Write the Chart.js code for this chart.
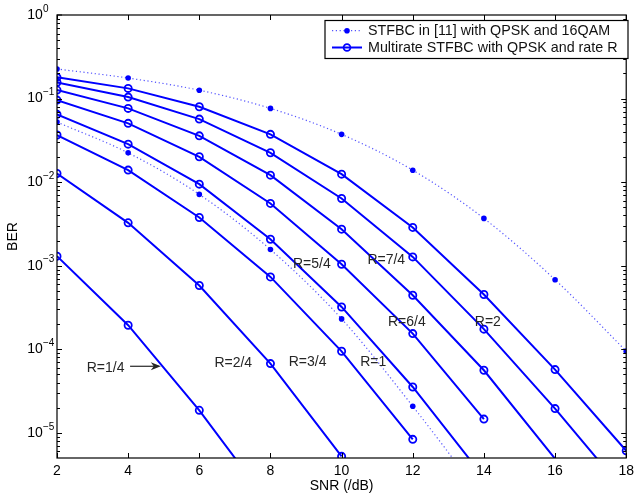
<!DOCTYPE html>
<html lang="en">
<head>
  <meta charset="UTF-8" />
  <title>BER vs SNR - Multirate STFBC</title>
  <script src="https://cdn.jsdelivr.net/npm/chart.js"></script>
  <style>
    html, body {
      margin: 0;
      padding: 0;
      background: #fff;
    }
    #wrap {
      width: 639px;
      height: 495px;
    }
  </style>
</head>
<body>
  <div id="wrap"><canvas id="berChart" width="639" height="495"></canvas></div>

  <script>
    const snr = [2, 4, 6, 8, 10, 12, 14, 16, 18];
    const xTicks = [2, 4, 6, 8, 10, 12, 14, 16, 18];
    const yDecades = [0, -1, -2, -3, -4, -5];
    const yMin = 5e-6;
    const yMax = 1;

    // STFBC in [11] (dotted, filled dots)
    const ref16qam = [0.226, 0.176, 0.126, 0.0763, 0.0373, 0.0139, 0.00368, 6.8e-4, 9.5e-5];
    const refQpsk = [0.0523, 0.0224, 0.00713, 0.00156, 2.31e-4, 2.08e-5, 1.6e-6];

    // Multirate STFBC, rate R (solid, circles)
    const rate8of4 = [0.1795, 0.1324, 0.0798, 0.0373, 0.01247, 0.00287, 4.52e-4, 5.71e-5, 6.1e-6];
    const rate7of4 = [0.1563, 0.1042, 0.0568, 0.02244, 0.00638, 0.001274, 1.74e-4, 1.95e-5, 1.88e-6];
    const rate6of4 = [0.1264, 0.0763, 0.0358, 0.01213, 0.002736, 4.43e-4, 5.61e-5, 4.9e-6];
    const rate5of4 = [0.0959, 0.0505, 0.0201, 0.00556, 0.001042, 1.54e-4, 1.46e-5];
    const rate4of4 = [0.0647, 0.0285, 0.00946, 0.002076, 3.21e-4, 3.54e-5, 2.93e-6];
    const rate3of4 = [0.0366, 0.01393, 0.003777, 7.34e-4, 9.46e-5, 8.36e-6];
    const rate2of4 = [0.0127, 0.00326, 5.79e-4, 6.74e-5, 5.23e-6];
    const rate1of4 = [0.0013, 1.94e-4, 1.86e-5, 1.35e-6];

    const rateSeries = [rate8of4, rate7of4, rate6of4, rate5of4, rate4of4, rate3of4, rate2of4, rate1of4];

    // curve labels, placed in data coordinates (left edge, vertical middle)
    const rateLabels = ['R=2', 'R=7/4', 'R=6/4', 'R=5/4', 'R=1', 'R=3/4', 'R=2/4', 'R=1/4'];
    const labelX = [13.744, 10.725, 11.302, 8.634, 10.521, 8.514, 6.424, 2.836];
    const labelY = [2.12e-4, 1.16e-3, 2.09e-4, 1.03e-3, 7.05e-5, 7.05e-5, 6.74e-5, 5.97e-5];
    const arrowFrom = [4.054, 6.26e-5];
    const arrowTo = [4.918, 6.26e-5];

    const legendText = ['STFBC in [11] with QPSK and 16QAM', 'Multirate STFBC with QPSK and rate R'];

    const FONT = '"Liberation Sans", Arial, sans-serif';
    const BLUE = '#0000ff';

    const toPoints = vals => vals.map((v, i) => ({x: snr[i], y: v}));

    const dottedStyle = {
      borderColor: 'rgba(40,40,255,0.8)',
      borderWidth: 1.2,
      borderDash: [1.2, 2.6],
      cubicInterpolationMode: 'monotone',
      pointStyle: 'circle',
      pointRadius: c => (c.raw && c.raw.y < yMin ? 0 : 2.8),
      pointBackgroundColor: BLUE,
      pointBorderColor: BLUE,
      pointBorderWidth: 0,
      fill: false
    };

    const solidStyle = {
      borderColor: BLUE,
      borderWidth: 2,
      tension: 0,
      pointStyle: 'circle',
      pointRadius: c => (c.raw && c.raw.y < yMin ? 0 : 3.6),
      pointBackgroundColor: 'rgba(0,0,0,0)',
      pointBorderColor: BLUE,
      pointBorderWidth: 1.8,
      fill: false
    };

    const datasets = [
      Object.assign({label: legendText[0], data: toPoints(ref16qam)}, dottedStyle),
      Object.assign({label: legendText[0] + ' (QPSK)', data: toPoints(refQpsk)}, dottedStyle)
    ];
    rateSeries.forEach((vals, i) => {
      datasets.push(Object.assign({label: rateLabels[i], data: toPoints(vals)}, solidStyle));
    });

    // frame, inward ticks, y labels with exponents, curve labels and legend box
    const decorations = {
      id: 'decorations',
      afterDraw(chart) {
        const {ctx, chartArea: a, scales: {x, y}} = chart;
        ctx.save();
        ctx.strokeStyle = '#000';
        ctx.lineWidth = 1.2;
        ctx.strokeRect(a.left, a.top, a.right - a.left, a.bottom - a.top);

        ctx.lineWidth = 1;
        ctx.beginPath();
        xTicks.forEach(v => {
          const px = Math.round(x.getPixelForValue(v)) + 0.5;
          ctx.moveTo(px, a.bottom); ctx.lineTo(px, a.bottom - 5);
          ctx.moveTo(px, a.top); ctx.lineTo(px, a.top + 5);
        });
        yDecades.forEach(d => {
          for (let m = 1; m <= 9; m++) {
            const v = m * Math.pow(10, d - 1);
            if (v < yMin || v > yMax) continue;
            const py = Math.round(y.getPixelForValue(v)) + 0.5;
            const len = m === 1 ? 5 : 3;
            ctx.moveTo(a.left, py); ctx.lineTo(a.left + len, py);
            ctx.moveTo(a.right, py); ctx.lineTo(a.right - len, py);
          }
        });
        ctx.moveTo(a.left, y.getPixelForValue(1)); ctx.lineTo(a.left + 5, y.getPixelForValue(1));
        ctx.stroke();

        // y tick labels: 10^d
        ctx.fillStyle = '#000';
        yDecades.forEach(d => {
          const py = y.getPixelForValue(Math.pow(10, d));
          ctx.font = '14px ' + FONT;
          ctx.textAlign = 'right';
          ctx.textBaseline = 'middle';
          ctx.fillText('10', 42.7, py);
          ctx.font = '10px ' + FONT;
          ctx.textAlign = 'left';
          ctx.fillText(d === 0 ? '0' : '\u2212' + (-d), 43, py - 6);
        });

        // curve labels
        ctx.fillStyle = '#262626';
        ctx.font = '14px ' + FONT;
        ctx.textAlign = 'left';
        ctx.textBaseline = 'middle';
        rateLabels.forEach((t, i) => {
          ctx.fillText(t, x.getPixelForValue(labelX[i]), y.getPixelForValue(labelY[i]));
        });

        // arrow for R=1/4
        const ax0 = x.getPixelForValue(arrowFrom[0]), ay0 = y.getPixelForValue(arrowFrom[1]);
        const ax1 = x.getPixelForValue(arrowTo[0]), ay1 = y.getPixelForValue(arrowTo[1]);
        ctx.strokeStyle = '#262626';
        ctx.lineWidth = 1.2;
        ctx.beginPath();
        ctx.moveTo(ax0, ay0); ctx.lineTo(ax1 - 2, ay1);
        ctx.stroke();
        ctx.beginPath();
        ctx.moveTo(ax1, ay1);
        ctx.lineTo(ax1 - 10, ay1 - 4);
        ctx.lineTo(ax1 - 7, ay1);
        ctx.lineTo(ax1 - 10, ay1 + 4);
        ctx.closePath();
        ctx.fillStyle = '#262626';
        ctx.fill();

        // legend box
        const lx = 325, ly = 20.5, lw = 303, lh = 38;
        ctx.fillStyle = '#fff';
        ctx.fillRect(lx, ly, lw, lh);
        ctx.strokeStyle = '#000';
        ctx.lineWidth = 1.2;
        ctx.strokeRect(lx, ly, lw, lh);
        const rows = [30.7, 47.5];
        const samples = [datasets[0], datasets[2]];
        samples.forEach((ds, i) => {
          const ry = rows[i];
          ctx.strokeStyle = ds.borderColor;
          ctx.lineWidth = ds.borderWidth;
          ctx.setLineDash(ds.borderDash || []);
          ctx.beginPath();
          ctx.moveTo(332, ry); ctx.lineTo(362, ry);
          ctx.stroke();
          ctx.setLineDash([]);
          ctx.beginPath();
          if (i === 0) {
            ctx.arc(347, ry, 2.8, 0, Math.PI * 2);
            ctx.fillStyle = BLUE;
            ctx.fill();
          } else {
            ctx.arc(347, ry, 3.4, 0, Math.PI * 2);
            ctx.strokeStyle = BLUE;
            ctx.lineWidth = 1.8;
            ctx.stroke();
          }
          ctx.fillStyle = '#111';
          ctx.font = '14.3px ' + FONT;
          ctx.textAlign = 'left';
          ctx.textBaseline = 'middle';
          ctx.fillText(legendText[i], 368, ry + 0.5);
        });
        ctx.restore();
      }
    };

    Chart.defaults.font.family = FONT;
    Chart.defaults.font.size = 14;
    Chart.defaults.color = '#000';

    new Chart(document.getElementById('berChart').getContext('2d'), {
      type: 'line',
      data: {datasets},
      options: {
        responsive: false,
        animation: false,
        devicePixelRatio: 1,
        layout: {padding: {top: 15, right: 8, left: 0, bottom: 0}},
        plugins: {
          legend: {display: false},
          tooltip: {enabled: false}
        },
        scales: {
          x: {
            type: 'linear',
            min: 2,
            max: 18,
            grid: {display: false, drawTicks: false},
            border: {display: false},
            ticks: {stepSize: 2, padding: 5, color: '#000', font: {size: 14}},
            title: {display: true, text: 'SNR (/dB)', color: '#000', font: {size: 14}, padding: {top: 0, bottom: 0}},
            afterFit: s => { s.height = 37; }
          },
          y: {
            type: 'logarithmic',
            min: yMin,
            max: yMax,
            grid: {display: false},
            border: {display: false},
            ticks: {display: false},
            title: {display: true, text: 'BER', color: '#000', font: {size: 14}, padding: {top: 4.5, bottom: 0}},
            afterFit: s => { s.width = 57; }
          }
        }
      },
      plugins: [decorations]
    });
  </script>
</body>
</html>
